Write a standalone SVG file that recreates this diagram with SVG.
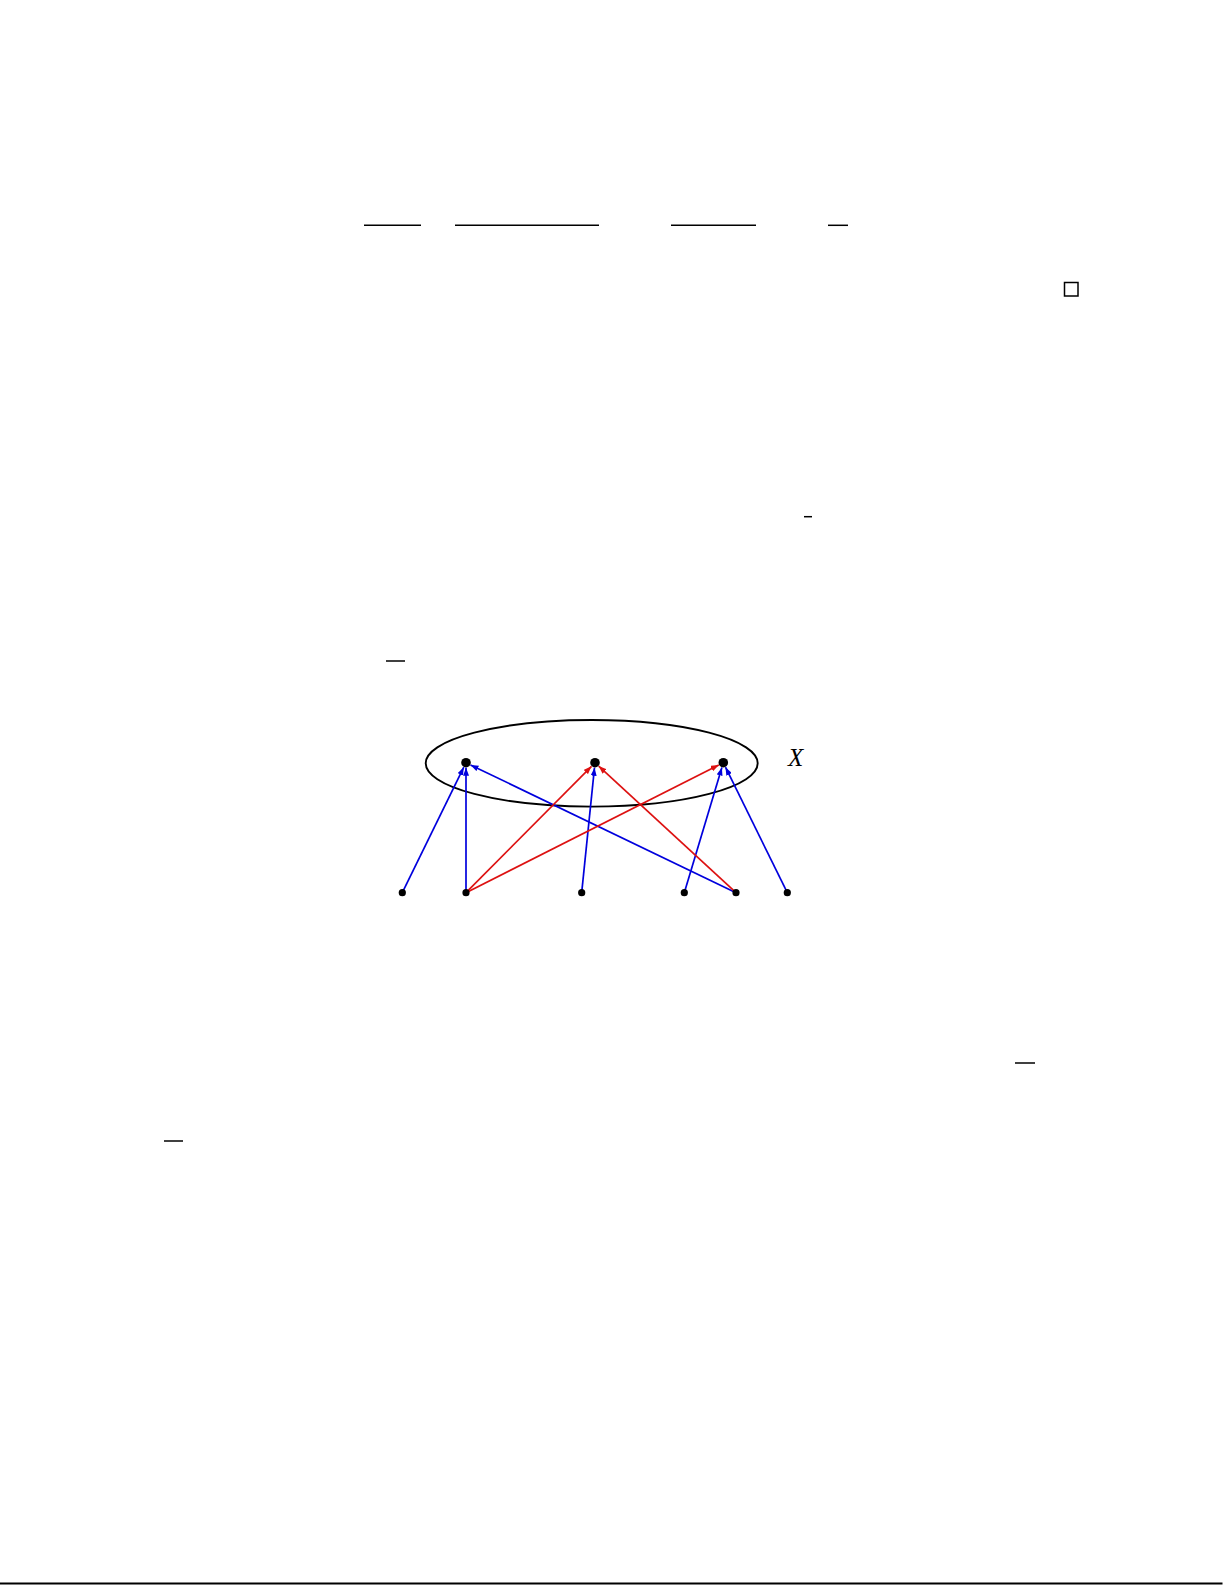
<svg xmlns="http://www.w3.org/2000/svg" width="1225" height="1585" viewBox="0 0 1225 1585">
<style>
.rule{stroke:#000;stroke-width:1.5;fill:none}
.blue{stroke:#0000dd;stroke-width:1.7;fill:none;marker-end:url(#ab)}
.red{stroke:#dd1111;stroke-width:1.7;fill:none;marker-end:url(#ar)}
.top{fill:#000}
.bot{fill:#000}
.lbl{font-family:"Liberation Serif","DejaVu Serif",serif;font-style:italic;font-size:25px;fill:#000}
</style>
<defs>
<marker id="ab" markerUnits="userSpaceOnUse" markerWidth="9" markerHeight="6" refX="8" refY="3" orient="auto"><path d="M0,0 L8,3 L0,6 z" fill="#0000dd"/></marker>
<marker id="ar" markerUnits="userSpaceOnUse" markerWidth="9" markerHeight="6" refX="8" refY="3" orient="auto"><path d="M0,0 L8,3 L0,6 z" fill="#dd1111"/></marker>
</defs>
<rect width="1225" height="1585" fill="#fff"/>
<g id="rules">
<line class="rule" x1="364" y1="225.3" x2="421" y2="225.3"/>
<line class="rule" x1="455" y1="225.3" x2="599" y2="225.3"/>
<line class="rule" x1="671" y1="225.3" x2="756" y2="225.3"/>
<line class="rule" x1="828" y1="225.3" x2="848" y2="225.3"/>
<rect class="rule" x="1064.5" y="282.5" width="13.5" height="13.5"/>
<line class="rule" x1="804" y1="516.7" x2="812" y2="516.7"/>
<line class="rule" x1="386" y1="661" x2="405" y2="661"/>
<line class="rule" x1="1015" y1="1063" x2="1035" y2="1063"/>
<line class="rule" x1="164" y1="1141" x2="183" y2="1141"/>
<line x1="0" y1="1583.5" x2="1222.5" y2="1583.5" stroke="#000" stroke-width="2"/>
</g>
<g id="set-X">
<ellipse cx="591.7" cy="763.3" rx="166" ry="43.3" fill="none" stroke="#000" stroke-width="1.9"/>
<text class="lbl" x="788" y="766">X</text>
</g>
<g id="connectors">
<line class="blue" x1="402.3" y1="892.7" x2="463.8" y2="767.2"/>
<line class="blue" x1="466" y1="892.7" x2="466" y2="767.7"/>
<line class="blue" x1="736" y1="892.7" x2="470.5" y2="764.9"/>
<line class="blue" x1="581.7" y1="892.7" x2="594.5" y2="767.7"/>
<line class="blue" x1="684.3" y1="892.7" x2="721.9" y2="767.5"/>
<line class="blue" x1="787.3" y1="892.7" x2="725.5" y2="767.2"/>
<line class="red" x1="466" y1="892.7" x2="591.5" y2="766.3"/>
<line class="red" x1="466" y1="892.7" x2="718.8" y2="765"/>
<line class="red" x1="736" y1="892.7" x2="598.7" y2="766.1"/>
</g>
<g id="t1"><circle class="top" cx="466" cy="762.7" r="4.8"/></g>
<g id="t2"><circle class="top" cx="595" cy="762.7" r="4.8"/></g>
<g id="t3"><circle class="top" cx="723.3" cy="762.7" r="4.8"/></g>
<g id="b1"><circle class="bot" cx="402.3" cy="892.7" r="3.6"/></g>
<g id="b2"><circle class="bot" cx="466" cy="892.7" r="3.6"/></g>
<g id="b3"><circle class="bot" cx="581.7" cy="892.7" r="3.6"/></g>
<g id="b4"><circle class="bot" cx="684.3" cy="892.7" r="3.6"/></g>
<g id="b5"><circle class="bot" cx="736" cy="892.7" r="3.6"/></g>
<g id="b6"><circle class="bot" cx="787.3" cy="892.7" r="3.6"/></g>
</svg>
